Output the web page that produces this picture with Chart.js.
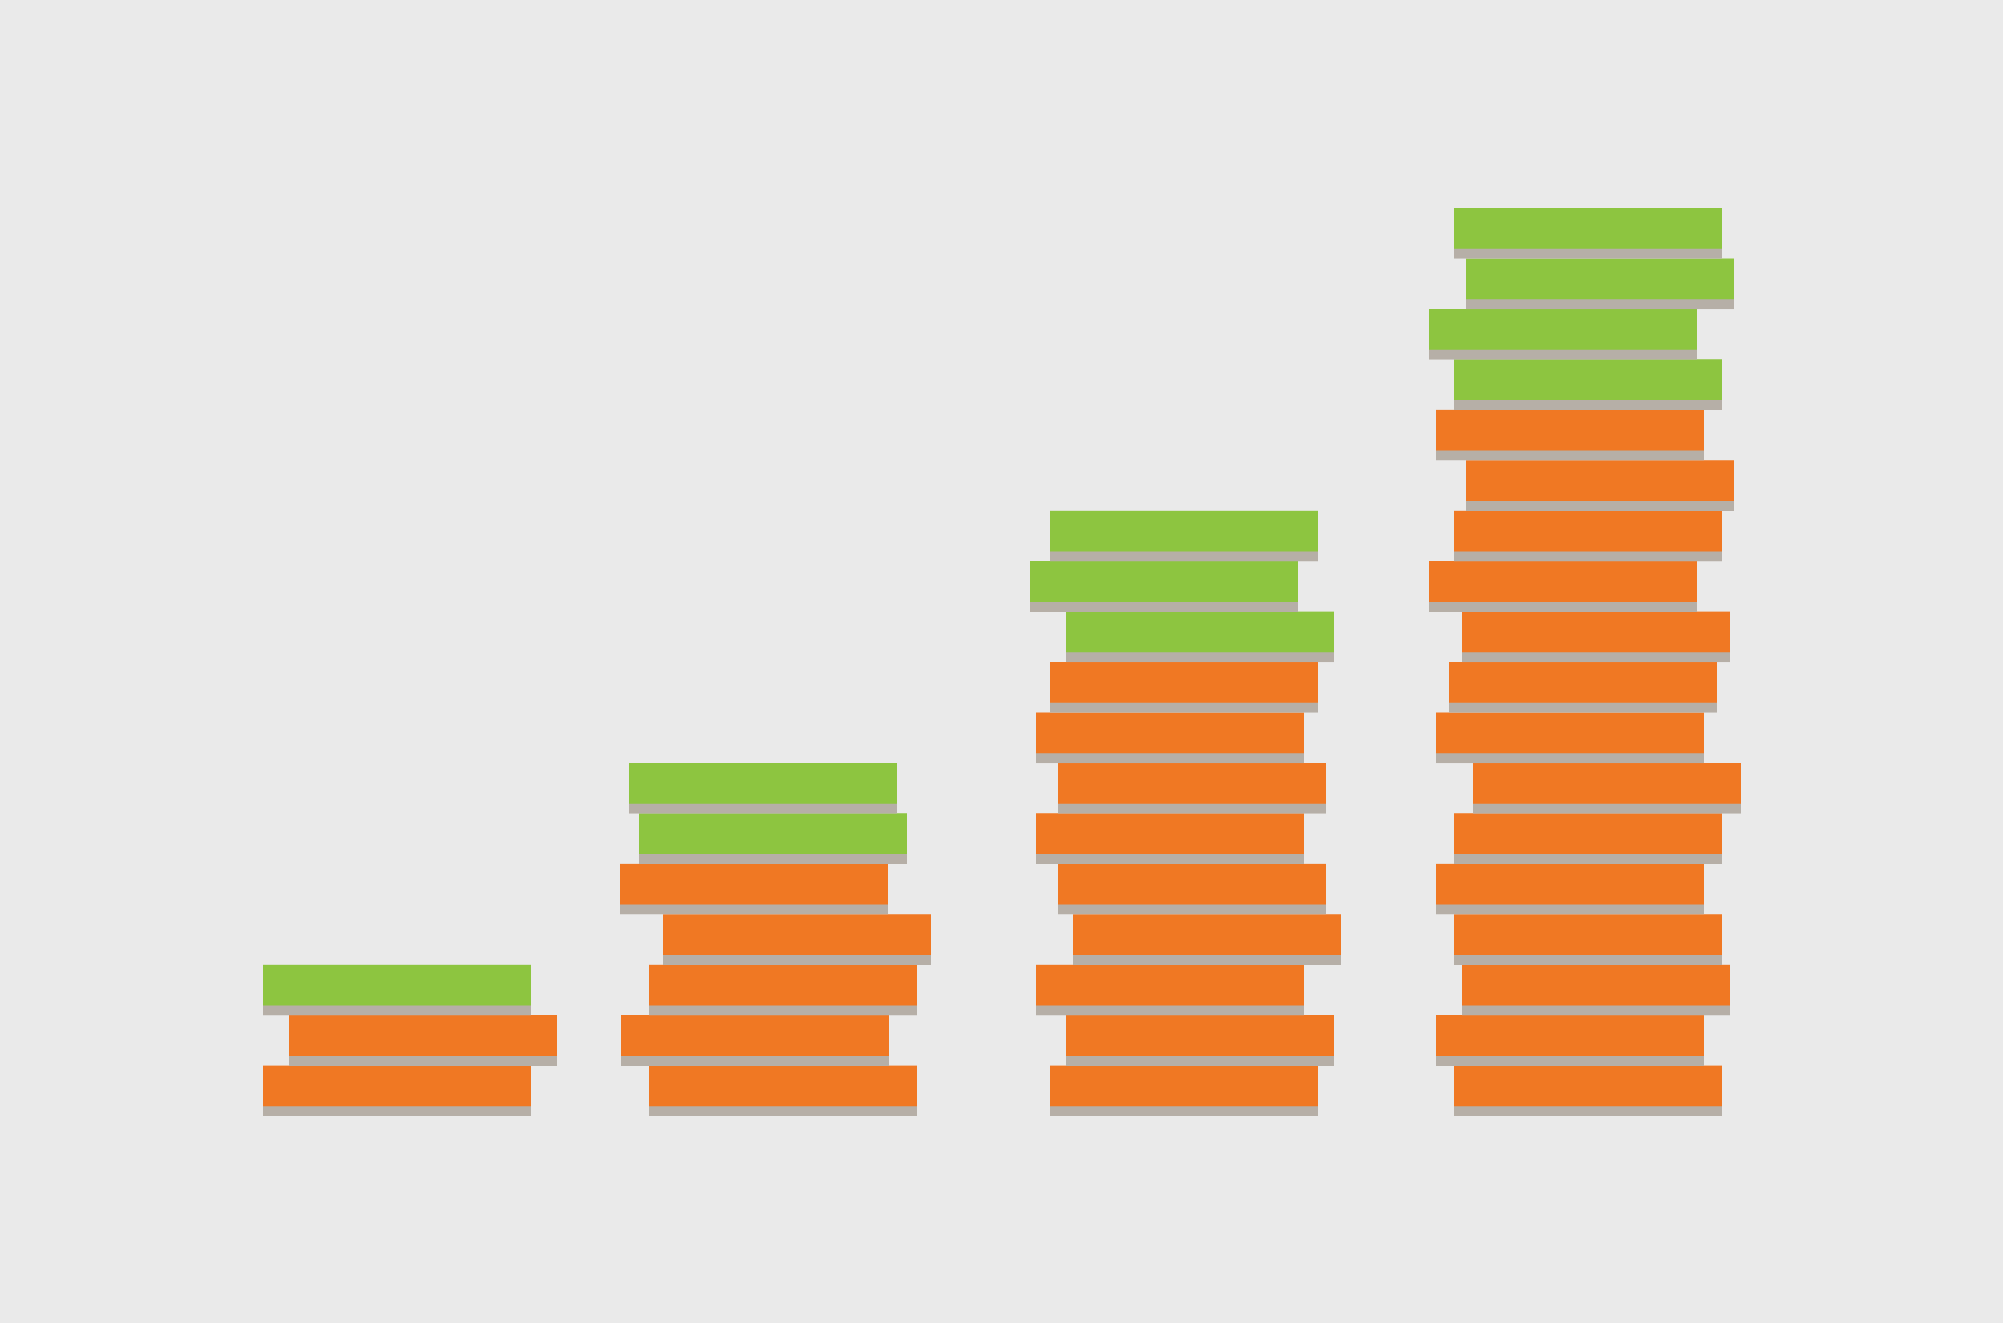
<!DOCTYPE html>
<html>
<head>
<meta charset="utf-8">
<title>Piles</title>
<script src="https://cdn.jsdelivr.net/npm/chart.js@4/dist/chart.umd.min.js"></script>
<style>
  html, body { margin: 0; padding: 0; background: #EAEAEA; }
  #wrap { width: 2003px; height: 1323px; }
</style>
</head>
<body>
<div id="wrap"><canvas id="chart"></canvas></div>
<script>
// left edge of each book, from the bottom of the pile up
const pile1 = [263, 289, 263];
const pile2 = [649, 621, 649, 663, 620, 639, 629];
const pile3 = [1050, 1066, 1036, 1073, 1058, 1036, 1058, 1036, 1050, 1066, 1030, 1050];
const pile4 = [1454, 1436, 1462, 1454, 1436, 1454, 1473, 1436, 1449, 1462, 1429, 1454, 1466, 1436, 1454, 1429, 1466, 1454];

// how many books at the top of each pile are green
const greenOnTop = [1, 2, 3, 4];

const BOOK_WIDTH = 268;
const ORANGE = '#F07823';
const GREEN = '#8DC540';
const SHADOW = '#B6AFA7';

const piles = [pile1, pile2, pile3, pile4];
const levels = Array.from({ length: Math.max(...piles.map((p) => p.length)) }, (_, i) => String(i + 1));

const datasets = piles.map((pile, p) => {
  const firstGreen = pile.length - greenOnTop[p];
  return {
    data: pile.map((left, level) => ({ y: level, x: [left, left + BOOK_WIDTH] })),
    backgroundColor: pile.map((_, level) => (level >= firstGreen ? GREEN : ORANGE)),
    borderColor: SHADOW,
    borderWidth: { top: 0, left: 0, right: 0, bottom: 10 },
    borderSkipped: false,
    barPercentage: 1,
    categoryPercentage: 1,
    grouped: false,
  };
});

new Chart(document.getElementById('chart'), {
  type: 'bar',
  data: { labels: levels, datasets },
  options: {
    indexAxis: 'y',
    responsive: true,
    maintainAspectRatio: false,
    animation: false,
    layout: { padding: { top: 208, bottom: 207, left: 0, right: 0 } },
    plugins: { legend: { display: false }, tooltip: { enabled: false } },
    scales: {
      x: { type: 'linear', min: 0, max: 2003, display: false },
      y: { type: 'category', reverse: true, display: false },
    },
  },
});
</script>
</body>
</html>
